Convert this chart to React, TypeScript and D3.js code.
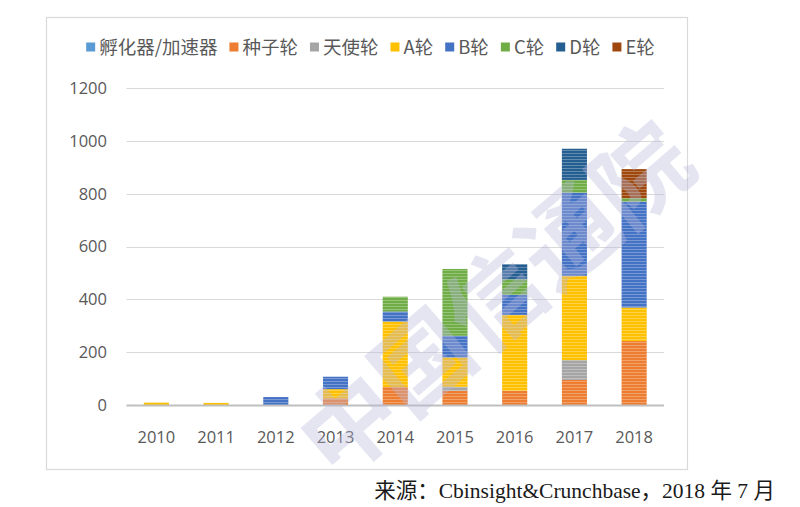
import * as d3 from 'd3';
import { useEffect, useRef } from 'react';

const years = ['2010', '2011', '2012', '2013', '2014', '2015', '2016', '2017', '2018'];
const seriesNames = ['孵化器/加速器', '种子轮', '天使轮', 'A轮', 'B轮', 'C轮', 'D轮', 'E轮'];
const seriesColors = ['#5B9BD5', '#ED7D31', '#A5A5A5', '#FFC000', '#4472C4', '#70AD47', '#255E91', '#9E480E'];

const incubator = [0, 0, 0, 0, 0, 0, 0, 0, 0];
const seed = [0, 0, 0, 25, 68, 54, 54, 95, 242];
const angel = [0, 0, 0, 0, 0, 15, 0, 75, 0];
const roundA = [9, 8, 0, 35, 248, 111, 287, 319, 127];
const roundB = [0, 0, 30, 47, 38, 82, 76, 315, 401];
const roundC = [0, 0, 0, 0, 56, 253, 59, 48, 13];
const roundD = [0, 0, 0, 0, 0, 0, 57, 118, 0];
const roundE = [0, 0, 0, 0, 0, 0, 0, 0, 110];

const yTicks = [0, 200, 400, 600, 800, 1000, 1200];
const sourceText = '来源：Cbinsight&Crunchbase，2018 年 7 月';
const watermark = '中国信通院';

const allSeries = [incubator, seed, angel, roundA, roundB, roundC, roundD, roundE];

export default function App() {
    const ref = useRef<any>();

    useEffect(() => {
        const svg = d3.select<any, any>(ref.current);
        svg.selectAll('*').remove();

        const width = 800;
        const height = 507;
        const plot = { left: 126.5, right: 664, top: 88, bottom: 405 };

        // rows for d3.stack
        const rows: any[] = years.map((y, i) => {
            const r: any = { year: y };
            seriesNames.forEach((n, k) => { r[n] = allSeries[k][i]; });
            return r;
        });
        const stacked = d3.stack().keys(seriesNames)(rows);

        const xScale = d3.scaleBand().domain(years).range([plot.left, plot.right]).paddingInner(0.58).paddingOuter(0.29);
        const yScale = d3.scaleLinear().domain([0, 1200]).range([plot.bottom, plot.top]);

        const defs = svg.append('defs');
        const pat = defs.append('pattern')
            .attr('id', 'stripes')
            .attr('patternUnits', 'userSpaceOnUse')
            .attr('width', 6)
            .attr('height', 3);
        pat.append('rect').attr('x', 0).attr('y', 0).attr('width', 6).attr('height', 1).attr('fill', '#ffffff').attr('opacity', 0.28);

        // outer frame
        svg.append('rect')
            .attr('x', 46.5).attr('y', 17.5)
            .attr('width', 641).attr('height', 452)
            .attr('fill', '#ffffff')
            .attr('stroke', '#d9d9d9')
            .attr('stroke-width', 1.2);

        // grid
        svg.append('g').selectAll('line').data(yTicks.filter(t => t > 0)).join('line')
            .attr('x1', plot.left).attr('x2', plot.right)
            .attr('y1', d => Math.round(yScale(d)) + 0.5)
            .attr('y2', d => Math.round(yScale(d)) + 0.5)
            .attr('stroke', '#d9d9d9')
            .attr('stroke-width', 1);

        // y labels
        svg.append('g').selectAll('text').data(yTicks).join('text')
            .attr('x', 107)
            .attr('y', d => yScale(d))
            .attr('dy', '0.36em')
            .attr('text-anchor', 'end')
            .attr('font-family', '"Open Sans", sans-serif')
            .attr('font-size', 16.5)
            .attr('fill', '#595959')
            .text(d => d);

        // bars
        const bars = svg.append('g');
        stacked.forEach((layer: any, k: number) => {
            const g = bars.append('g');
            const segs = layer.filter((d: any) => d[1] - d[0] > 0);
            g.selectAll('rect.fill').data(segs).join('rect')
                .attr('class', 'fill')
                .attr('x', (d: any) => xScale(d.data.year))
                .attr('width', xScale.bandwidth())
                .attr('y', (d: any) => yScale(d[1]))
                .attr('height', (d: any) => yScale(d[0]) - yScale(d[1]))
                .attr('fill', seriesColors[k]);
            g.selectAll('rect.str').data(segs).join('rect')
                .attr('class', 'str')
                .attr('x', (d: any) => xScale(d.data.year))
                .attr('width', xScale.bandwidth())
                .attr('y', (d: any) => yScale(d[1]))
                .attr('height', (d: any) => yScale(d[0]) - yScale(d[1]))
                .attr('fill', 'url(#stripes)');
        });

        // baseline
        svg.append('line')
            .attr('x1', plot.left).attr('x2', plot.right)
            .attr('y1', plot.bottom + 0.5).attr('y2', plot.bottom + 0.5)
            .attr('stroke', '#bfbfbf')
            .attr('stroke-width', 2);

        // x labels
        svg.append('g').selectAll('text').data(years).join('text')
            .attr('x', d => (xScale(d) as number) + xScale.bandwidth() / 2)
            .attr('y', 437)
            .attr('dy', '0.36em')
            .attr('text-anchor', 'middle')
            .attr('font-family', '"Open Sans", sans-serif')
            .attr('font-size', 16.5)
            .attr('fill', '#595959')
            .text(d => d);

        // legend, centred on the frame
        const legend = svg.append('g');
        const items = legend.selectAll('g').data(seriesNames).join('g');
        items.append('rect')
            .attr('width', 9).attr('height', 9)
            .attr('y', 42.5)
            .attr('fill', (d, i) => seriesColors[i]);
        items.append('text')
            .attr('x', 13)
            .attr('y', 47)
            .attr('dy', '0.36em')
            .attr('font-family', '"Noto Sans CJK SC", "Open Sans", sans-serif')
            .attr('font-size', 18.5)
            .attr('fill', '#595959')
            .text(d => d);
        let cursor = 0;
        const offsets: number[] = [];
        items.each(function () {
            const t = d3.select(this).select('text').node() as SVGTextElement;
            offsets.push(cursor);
            cursor += 13 + t.getComputedTextLength() + 12;
        });
        const total = cursor - 12;
        const start = 370.5 - total / 2;
        items.attr('transform', (d, i) => `translate(${start + offsets[i]},0)`);

        // watermark
        svg.append('text')
            .attr('transform', 'translate(496,300) rotate(-40.7)')
            .attr('text-anchor', 'middle')
            .attr('dy', '0.36em')
            .attr('font-family', '"Noto Sans CJK SC", sans-serif')
            .attr('font-weight', 'bold')
            .attr('font-size', 96)
            .attr('fill', '#b9b9dd')
            .attr('opacity', 0.36)
            .text(watermark);

        // source
        svg.append('text')
            .attr('x', 775)
            .attr('y', 490)
            .attr('dy', '0.36em')
            .attr('text-anchor', 'end')
            .attr('font-family', '"Liberation Serif", "Noto Sans CJK SC", serif')
            .attr('font-size', 21.5)
            .attr('fill', '#1a1a1a')
            .text(sourceText);

        svg.attr('width', width).attr('height', height);
    }, []);

    return (
        <svg ref={ref} width={800} height={507}
            style={{ position: 'absolute', left: 0, top: 0, background: '#ffffff' }} />
    );
}
